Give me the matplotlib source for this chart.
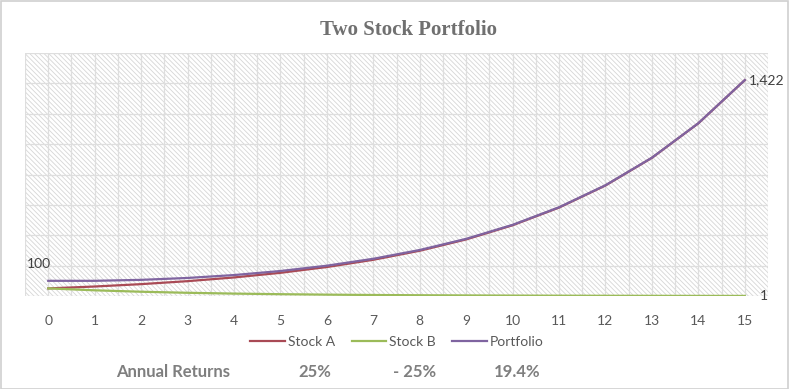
import matplotlib.pyplot as plt
from matplotlib.patches import Rectangle

# values (50 invested in each stock)
years = list(range(16))
stock_a = [50, 62.5, 78.1, 97.7, 122.1, 152.6, 190.7, 238.4, 298.0, 372.5,
           465.7, 582.1, 727.6, 909.5, 1136.9, 1421.1]
stock_b = [50, 37.5, 28.1, 21.1, 15.8, 11.9, 8.9, 6.7, 5.0, 3.8,
           2.8, 2.1, 1.6, 1.2, 0.9, 0.7]
portfolio = [100, 100, 106.3, 118.8, 137.9, 164.5, 199.6, 245.1, 303.0, 376.3,
             468.5, 584.2, 729.2, 910.7, 1137.8, 1421.8]
returns_labels = ['Annual Returns', '25%', '- 25%', '19.4%']

plt.rcParams['font.family'] = ['Lato', 'DejaVu Sans']
plt.rcParams['hatch.linewidth'] = 0.6
grey = '#595959'

fig = plt.figure(figsize=(7.89, 3.89), dpi=100)
ax = fig.add_axes([25 / 789, 1 - 296 / 389, 743 / 789, 243 / 389])

# hatched plot area like the excel pattern fill
ax.add_patch(Rectangle((0, 0), 1, 1, transform=ax.transAxes, facecolor='white',
                       edgecolor='#d6d6d6', hatch='\\' * 7, linewidth=0, zorder=0))

ax.plot(years, stock_a, color='#A94A55', lw=1.6, label='Stock A', zorder=3)
ax.plot(years, stock_b, color='#9BBB59', lw=1.6, label='Stock B', zorder=3)
ax.plot(years, portfolio, color='#7F64A0', lw=1.6, label='Portfolio', zorder=4)

ax.set_xlim(-0.5, 15.5)
ax.set_ylim(0, 1600)
ax.set_xticks([x / 2 for x in range(-1, 32)], minor=True)
ax.set_xticks(years)
ax.set_yticks(range(0, 1601, 200))
ax.grid(True, which='both', color='#dedede', lw=0.9, zorder=1)
ax.set_axisbelow(False)
for s in ax.spines.values():
    s.set_visible(False)
ax.tick_params(axis='y', left=False, labelleft=False)
ax.tick_params(axis='x', which='both', bottom=False, labelsize=10,
               labelcolor=grey, pad=10)

# data labels
ax.annotate(f'{portfolio[0]:,.0f}', (years[0], portfolio[0]), xytext=(-7, 8),
            textcoords='offset points', ha='center', va='bottom',
            fontsize=10, color='#404040')
ax.annotate(f'{portfolio[-1]:,.0f}', (years[-1], portfolio[-1]), xytext=(3, 0),
            textcoords='offset points', ha='left', va='center',
            fontsize=10, color='#404040')
ax.annotate(f'{stock_b[-1]:,.0f}', (years[-1], stock_b[-1]), xytext=(11, 0),
            textcoords='offset points', ha='left', va='center',
            fontsize=10, color='#404040')

fig.text(408 / 789, 1 - 30 / 389, 'Two Stock Portfolio', ha='center', va='center',
         fontsize=15, fontweight='bold', color='#707070', family='Liberation Serif')

fig.legend(loc='center', bbox_to_anchor=(397 / 789, 1 - 342 / 389), ncol=3,
           frameon=False, fontsize=10, handlelength=2.5, handletextpad=0.2,
           columnspacing=1.2, labelcolor=grey)

for x, lab in zip([173, 315, 415, 517], returns_labels):
    fig.text(x / 789, 1 - 372 / 389, lab, ha='center', va='center',
             fontsize=12, fontweight='bold', color='#7f7f7f')

fig.add_artist(Rectangle((0.5 / 789, 0.5 / 389), 1 - 1.5 / 789, 1 - 1.5 / 389,
                         transform=fig.transFigure, fill=False,
                         edgecolor='#d0d0d0', lw=1.2))

fig.savefig('out.png', dpi=100)
